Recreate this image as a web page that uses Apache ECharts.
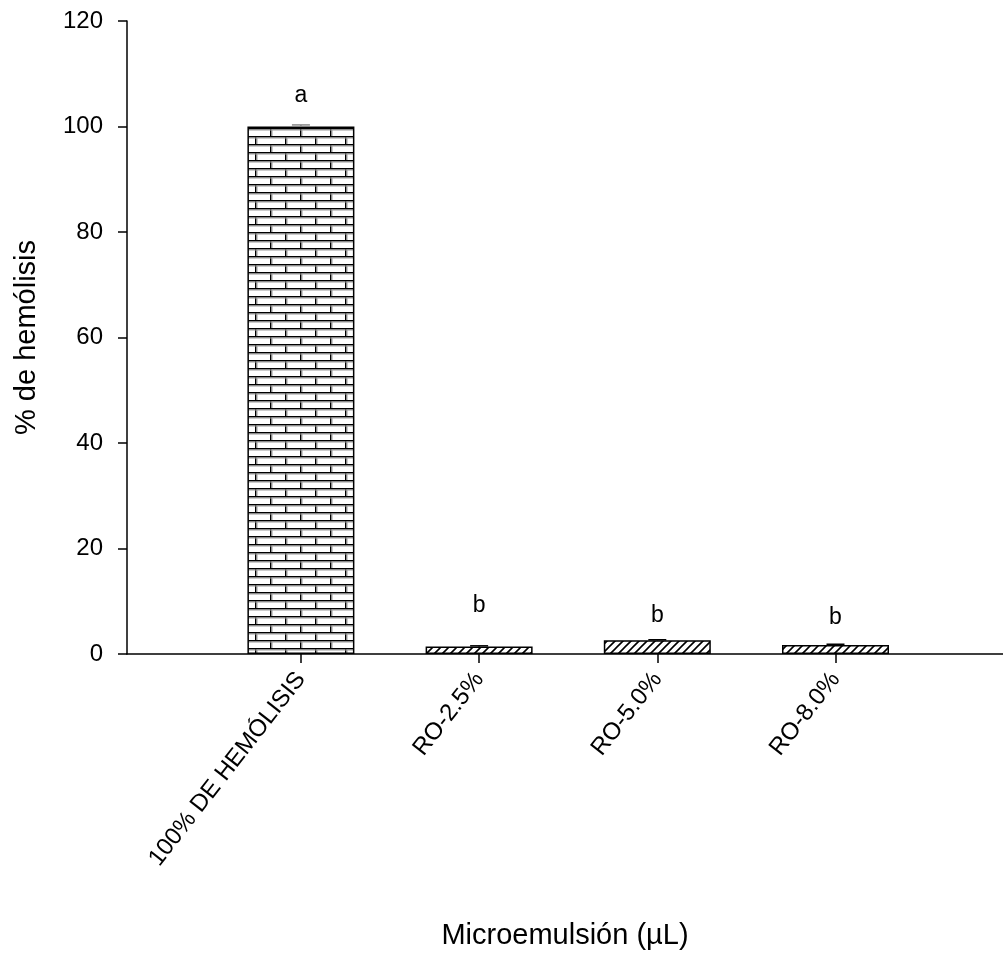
<!DOCTYPE html>
<html>
<head>
<meta charset="utf-8">
<script src="https://cdn.jsdelivr.net/npm/echarts@6/dist/echarts.min.js"></script>
<style>
html,body{margin:0;padding:0;background:#fff;}
#chart{width:1003px;height:955px;}
</style>
</head>
<body>
<div id="chart"></div>
<script>
// ---- data ----
const categories = ['100% DE HEMÓLISIS', 'RO-2.5%', 'RO-5.0%', 'RO-8.0%'];
const positions = [1, 2, 3, 4];
const values = [100, 1.4, 2.6, 1.7];
const errors = [0.3, 0.15, 0.1, 0.15];
const letters = ['a', 'b', 'b', 'b'];
const letterY = [105.8, 9.2, 7.2, 6.8];
const yTicks = [0, 20, 40, 60, 80, 100, 120];

// ---- patterns ----
function brickPattern() {
  const c = document.createElement('canvas');
  c.width = 30; c.height = 16;
  const g = c.getContext('2d');
  g.fillStyle = '#fff'; g.fillRect(0, 0, 30, 16);
  g.fillStyle = '#000';
  g.fillRect(0, 0, 30, 1.5);
  g.fillRect(0, 8, 30, 1.5);
  g.fillRect(0, 0, 1.5, 8);
  g.fillRect(15, 8, 1.5, 8);
  g.fillStyle = '#9a9a9a';
  g.fillRect(0, 1.5, 30, 1);
  g.fillRect(0, 9.5, 30, 1);
  g.fillRect(1.5, 1.5, 1, 6.5);
  g.fillRect(16.5, 9.5, 1, 6.5);
  return c;
}
function hatchPattern() {
  const s = 8;
  const c = document.createElement('canvas');
  c.width = s; c.height = s;
  const g = c.getContext('2d');
  g.fillStyle = '#fff'; g.fillRect(0, 0, s, s);
  g.strokeStyle = '#000'; g.lineWidth = 1.6;
  g.beginPath();
  g.moveTo(-s, s * 2); g.lineTo(s * 2, -s);
  g.moveTo(-2 * s, s * 2); g.lineTo(s, -s);
  g.moveTo(0, s * 2); g.lineTo(s * 3, -s);
  g.stroke();
  return c;
}
const brick = { image: brickPattern(), repeat: 'repeat' };
const hatch = { image: hatchPattern(), repeat: 'repeat' };

const FONT = "'Liberation Sans', Arial, sans-serif";

const barData = positions.map((p, i) => ({
  value: [p, values[i]],
  itemStyle: { color: i === 0 ? brick : hatch }
}));
const errData = positions.map((p, i) => [p, values[i], errors[i]]);
const letterData = positions.map((p, i) => [p, letterY[i], letters[i]]);

const chart = echarts.init(document.getElementById('chart'), null, { renderer: 'canvas' });
chart.setOption({
  animation: false,
  backgroundColor: '#fff',
  grid: { left: 127, right: 0, top: 21, bottom: 298, containLabel: false },
  xAxis: {
    type: 'value',
    min: 0.024, max: 4.94,
    name: 'Microemulsión (µL)',
    nameLocation: 'middle',
    nameGap: 267,
    nameTextStyle: { fontFamily: FONT, fontSize: 29, color: '#000' },
    splitLine: { show: false },
    axisLine: { show: true, onZero: false, lineStyle: { color: '#000', width: 1.5 } },
    axisTick: { show: true, customValues: positions, length: 9, lineStyle: { color: '#000', width: 1.5 } },
    axisLabel: {
      customValues: positions,
      rotate: 52,
      margin: 21,
      fontFamily: FONT, fontSize: 24, color: '#000',
      formatter: v => categories[positions.indexOf(Math.round(v))] || ''
    }
  },
  yAxis: {
    type: 'value',
    min: 0, max: 120, interval: 20,
    name: '% de hemólisis',
    nameLocation: 'middle',
    nameGap: 86,
    nameTextStyle: { fontFamily: FONT, fontSize: 29, color: '#000' },
    splitLine: { show: false },
    axisLine: { show: true, lineStyle: { color: '#000', width: 1.5 } },
    axisTick: { show: true, length: 9, lineStyle: { color: '#000', width: 1.5 } },
    axisLabel: {
      margin: 24,
      fontFamily: FONT, fontSize: 24, color: '#000',
      formatter: v => yTicks.indexOf(v) >= 0 ? String(v) : ''
    }
  },
  series: [
    {
      type: 'bar',
      data: barData,
      barWidth: 107,
      itemStyle: { borderColor: '#000', borderWidth: 1.5 },
      z: 2
    },
    {
      type: 'custom',
      data: errData,
      z: 3,
      renderItem: function (params, api) {
        const x = api.value(0), m = api.value(1), e = api.value(2);
        const p0 = api.coord([x, m]);
        const p1 = api.coord([x, m + e]);
        const hw = 9;
        const col = params.dataIndex === 0 ? '#888' : '#000';
        return {
          type: 'group',
          children: [
            { type: 'line', shape: { x1: p0[0], y1: p0[1], x2: p1[0], y2: p1[1] }, style: { stroke: col, lineWidth: 1.5 } },
            { type: 'line', shape: { x1: p1[0] - hw, y1: p1[1], x2: p1[0] + hw, y2: p1[1] }, style: { stroke: col, lineWidth: 1.5 } }
          ]
        };
      }
    },
    {
      type: 'custom',
      data: letterData,
      z: 4,
      renderItem: function (params, api) {
        const p = api.coord([api.value(0), api.value(1)]);
        return {
          type: 'text',
          x: p[0], y: p[1],
          style: {
            text: letters[params.dataIndex],
            fill: '#000',
            font: "23px 'Liberation Sans', Arial, sans-serif",
            align: 'center',
            verticalAlign: 'middle'
          }
        };
      }
    }
  ]
});
</script>
</body>
</html>
